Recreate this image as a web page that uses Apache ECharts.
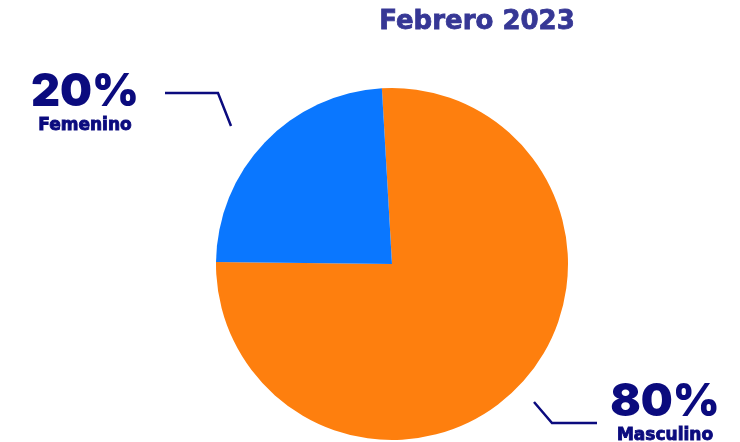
<!DOCTYPE html>
<html>
<head>
<meta charset="utf-8">
<script src="https://cdn.jsdelivr.net/npm/echarts@6/dist/echarts.min.js"></script>
<style>
  html, body { margin: 0; padding: 0; background: #fff; }
  #chart { width: 740px; height: 442px; }
</style>
</head>
<body>
<div id="chart"></div>
<script>
// datos
const categorias = ['Masculino', 'Femenino'];
const valores = [76.1, 23.9];
const etiquetas = ['80%', '20%'];
const colores = ['#FE7F0E', '#0A77FF'];

const chart = echarts.init(document.getElementById('chart'));

// posiciones de las etiquetas y sus lineas
const labelPos = {
  Masculino: { x: 665, y: 380, line: [[534, 402], [552, 423], [597, 423]] },
  Femenino: { x: 85, y: 70, line: [[231, 126], [218, 93], [165, 93]] }
};

const option = {
  animation: false,
  title: {
    text: 'Febrero 2023',
    left: 472,
    top: 4,
    textAlign: 'center',
    textStyle: {
      fontFamily: 'DejaVu Sans',
      fontWeight: 'bold',
      fontSize: 26,
      color: '#363795',
      textBorderColor: '#363795',
      textBorderWidth: 0.8
    }
  },
  series: [
    {
      type: 'pie',
      center: [392, 264],
      radius: 176,
      startAngle: 93.3,
      clockwise: true,
      emphasis: { disabled: true },
      data: categorias.map((c, i) => ({
        name: c,
        value: valores[i],
        itemStyle: { color: colores[i] },
        label: {
          formatter: '{pct|' + etiquetas[i] + '}\n{name|' + c + '}'
        }
      })),
      label: {
        show: true,
        position: 'outside',
        align: 'center',
        rich: {
          pct: {
            fontFamily: 'Inter',
            fontWeight: 900,
            fontSize: 45,
            lineHeight: 44,
            color: '#0B0B7E',
            align: 'center'
          },
          name: {
            fontFamily: 'DejaVu Sans',
            fontWeight: 'bold',
            fontSize: 17,
            lineHeight: 24,
            color: '#0B0B7E',
            textBorderColor: '#0B0B7E',
            textBorderWidth: 0.9,
            align: 'center'
          }
        }
      },
      labelLine: {
        show: true,
        lineStyle: { color: '#0B0B7E', width: 2.5 }
      },
      labelLayout: function (params) {
        const p = labelPos[categorias[params.dataIndex]];
        return {
          x: p.x,
          y: p.y,
          align: 'center',
          verticalAlign: 'top',
          labelLinePoints: p.line
        };
      }
    }
  ]
};

chart.setOption(option);
</script>
</body>
</html>
